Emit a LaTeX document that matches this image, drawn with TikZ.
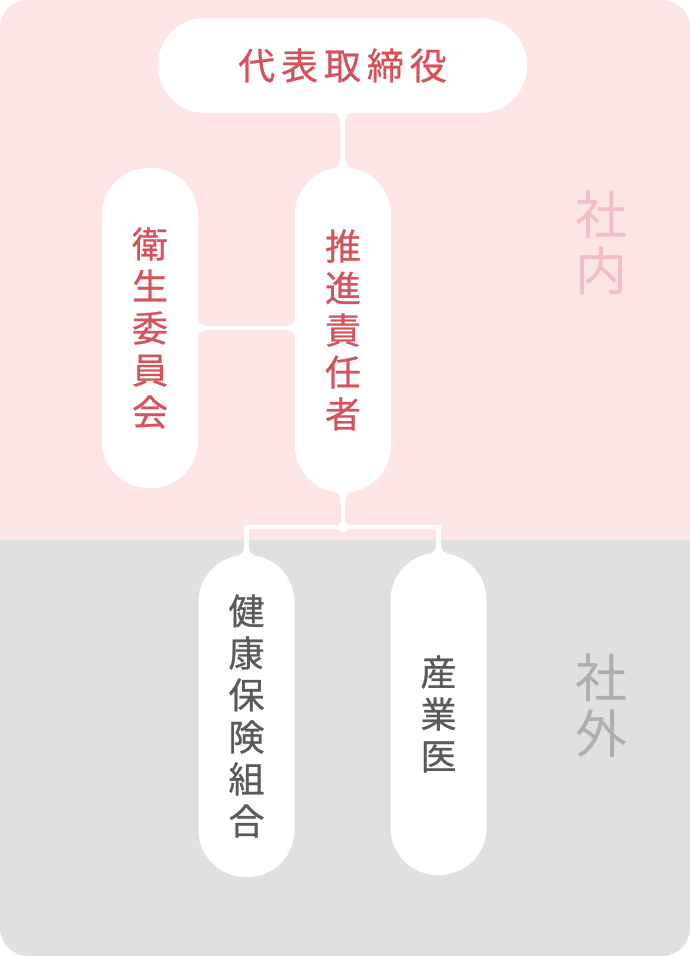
\documentclass[tikz,border=0pt]{standalone}
\usepackage{fontspec}
\newfontfamily\jpfont[FakeBold=0.7]{Noto Sans CJK JP}
\newfontfamily\jpwide[LetterSpace=16,FakeBold=0.7]{Noto Sans CJK JP}
\newfontfamily\jplight{Noto Sans CJK JP}
\definecolor{insidebg}{HTML}{FDE4E5}
\definecolor{outsidebg}{HTML}{E0E0E0}
\definecolor{insidetext}{HTML}{D6525B}
\definecolor{outsidetext}{HTML}{5A5A5A}
\definecolor{insidemark}{HTML}{F3BEC2}
\definecolor{outsidemark}{HTML}{AEAEAE}
\tikzset{
  pill/.style={rectangle,fill=white,rounded corners=47pt,inner sep=0pt,minimum width=96pt,align=center},
  vtext/.style={font=\jpfont\fontsize{36}{42}\selectfont},
  sidemark/.style={align=center,font=\jplight\fontsize{52}{56}\selectfont},
  link/.style={draw=white,line width=4.5pt},
  fillet/.pic={\fill[white] (-9,0) .. controls (-3,0) and (-2.2,-4) .. (-2.2,-12) -- (2.2,-12) .. controls (2.2,-4) and (3,0) .. (9,0) -- cycle;}
}
\begin{document}
\begin{tikzpicture}[x=1pt,y=-1pt]
\useasboundingbox (0,0) rectangle (690,956);
% background: inside / outside the company
\fill[outsidebg,rounded corners=28pt] (0,0) rectangle (690,956);
\begin{scope}
\clip (0,0) rectangle (690,539);
\fill[insidebg,rounded corners=28pt] (0,0) rectangle (690,956);
\end{scope}

\node[sidemark,text=insidemark]  (inside)  at (601,243) {社\\内};
\node[sidemark,text=outsidemark] (outside) at (601,706) {社\\外};

% Place pills for the members
\node[pill,minimum width=369pt,minimum height=95pt,text=insidetext,font=\jpwide\fontsize{37}{42}\selectfont] (president) at (342.5,65.5) {代表取締役};
\node[pill,minimum height=320pt,text=insidetext,vtext] (committee) at (150,328) {衛\\生\\委\\員\\会};
\node[pill,minimum height=325pt,text=insidetext,vtext] (manager)   at (343,330) {推\\進\\責\\任\\者};
\node[pill,minimum height=322pt,text=outsidetext,vtext] (insurer)  at (246.5,716) {健\\康\\保\\険\\組\\合};
\node[pill,minimum height=322pt,text=outsidetext,vtext] (doctor)   at (438.5,714) {産\\業\\医};
\coordinate (fork) at (343,527);

% Links
\draw[link] (president.south) -- (manager.north);
\draw[link] (committee.east) -- (committee.east -| manager.west);
\draw[link] (manager.south) -- (fork);
\draw[link] (insurer.north) |- (fork) -| (doctor.north);
\fill[white] (fork) circle (5.5pt);
\fill[white] (president.south) ++(0,2) circle (5pt);

% flares where the links meet the pills
\pic at (manager.north) {fillet};
\pic[rotate=180] at (president.south) {fillet};
\pic[rotate=180] at (manager.south) {fillet};
\pic at (insurer.north) {fillet};
\pic at (doctor.north) {fillet};
\pic[rotate=-90] at (committee.east) {fillet};
\pic[rotate=90] at (committee.east -| manager.west) {fillet};
\end{tikzpicture}
\end{document}
